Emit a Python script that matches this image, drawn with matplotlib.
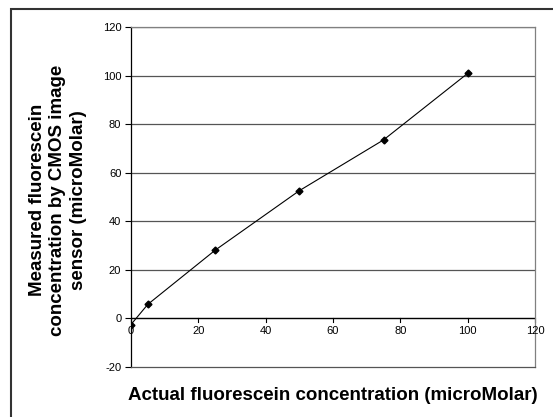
import matplotlib
matplotlib.use("Agg")
import matplotlib.pyplot as plt
from matplotlib.patches import Rectangle

actual = [0, 5, 25, 50, 75, 100]
measured = [-2.5, 5.8, 28.1, 52.6, 73.5, 100.9]
xticks = [0, 20, 40, 60, 80, 100, 120]
yticks = [-20, 0, 20, 40, 60, 80, 100, 120]

plt.rcParams['font.family'] = ['Liberation Sans', 'DejaVu Sans']

fig = plt.figure(figsize=(5.53, 4.17), dpi=100)
fig.patches.append(Rectangle((11/553, -0.1), 1.2, 1 - 9/417 + 0.1,
                             transform=fig.transFigure, fill=False,
                             edgecolor='#333333', linewidth=1.5, zorder=0))

ax = fig.add_axes([131/553, 1 - 367/417, (535 - 131)/553, (367 - 27)/417])
ax.set_xlim(0, 120)
ax.set_ylim(-20, 120)
for y in yticks[1:]:
    ax.axhline(y, color='#555555', linewidth=0.9, zorder=1)

ax.plot(actual, measured, color='black', linewidth=0.8, marker='D',
        markersize=3.5, zorder=3)

for side in ['top', 'right']:
    ax.spines[side].set_color('#808080')
    ax.spines[side].set_linewidth(0.9)
ax.spines['bottom'].set_color('#555555')
ax.spines['left'].set_color('black')
ax.spines['left'].set_linewidth(0.9)
ax.spines['bottom'].set_linewidth(0.9)

ax.set_yticks(yticks)
ax.set_yticklabels([str(v) for v in yticks])
ax.tick_params(axis='y', direction='out', length=4, width=0.8, labelsize=8, pad=3)

# x axis crossing at y = 0
ax.set_xticks([])
ax.axhline(0, color='black', linewidth=0.9, zorder=2)
for xv in xticks:
    ax.plot([xv, xv], [0, -1.6], color='black', linewidth=0.8, zorder=2,
            clip_on=False)
    ax.text(xv, -3.2, str(xv), ha='center', va='top', fontsize=8)

fig.text(333/553, 1 - 395/417, 'Actual fluorescein concentration (microMolar)',
         ha='center', va='center', fontsize=13.5, fontweight='bold')
fig.text(58/553, 1 - 200/417,
         'Measured fluorescein\nconcentration by CMOS image\nsensor (microMolar)',
         rotation=90, ha='center', va='center', fontsize=13.5,
         fontweight='bold', linespacing=1.3)

fig.savefig('out.png', dpi=100)
